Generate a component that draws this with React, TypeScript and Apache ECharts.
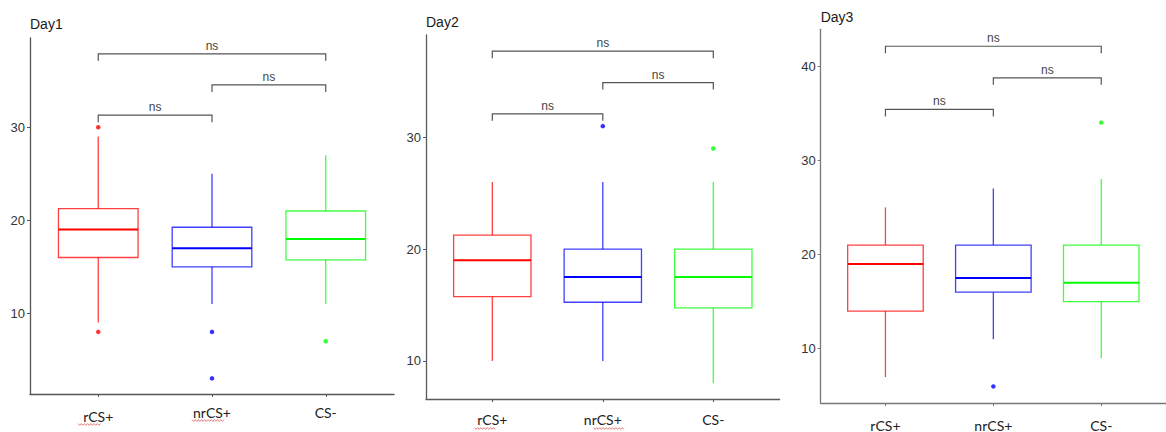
import { useEffect, useRef } from 'react';
import * as echarts from 'echarts';

const categories = ['rCS+', 'nrCS+', 'CS-'];
const categoryPositions = [1, 2, 3];
const groupColors = ['#ff0000', '#0000ff', '#00ff00'];

// [min, Q1, median, Q3, max] per group
const day1Boxes = [
  [9, 16, 19, 21.25, 29],
  [11, 15, 17, 19.25, 25],
  [11, 15.75, 18, 21, 27],
];
const day2Boxes = [
  [10, 15.75, 19, 21.25, 26],
  [10, 15.25, 17.5, 20, 26],
  [8, 14.75, 17.5, 20, 26],
];
const day3Boxes = [
  [7, 14, 19, 21, 25],
  [11, 16, 17.5, 21, 27],
  [9, 15, 17, 21, 28],
];

// [group index, value]
const day1Outliers = [[0, 30], [0, 8], [1, 8], [1, 3], [2, 7]];
const day2Outliers = [[1, 31], [2, 29]];
const day3Outliers = [[1, 6], [2, 34]];

// [from group, to group, bracket height]
const day1Brackets = [[0, 1, 31.3], [1, 2, 34.55], [0, 2, 37.9]];
const day2Brackets = [[0, 1, 32.1], [1, 2, 34.9], [0, 2, 37.7]];
const day3Brackets = [[0, 1, 35.4], [1, 2, 38.75], [0, 2, 42.1]];
const bracketLabel = 'ns';

const day1Ticks = [10, 20, 30];
const day2Ticks = [10, 20, 30];
const day3Ticks = [10, 20, 30, 40];

const BOX_WIDTH = 0.7;
const TIP = 7;

const panels = [
  {
    title: 'Day1', boxes: day1Boxes, outliers: day1Outliers, brackets: day1Brackets, ticks: day1Ticks,
    yMin: 1.32, yMax: 39.6,
    grid: { left: 30, top: 38, width: 364, height: 356 },
    titleTop: 16.5, labelMargin: 11, axisColor: '#555',
  },
  {
    title: 'Day2', boxes: day2Boxes, outliers: day2Outliers, brackets: day2Brackets, ticks: day2Ticks,
    yMin: 6.6, yMax: 39.15,
    grid: { left: 426, top: 35, width: 353.6, height: 364 },
    titleTop: 14.7, labelMargin: 13, axisColor: '#5a5a5a',
  },
  {
    title: 'Day3', boxes: day3Boxes, outliers: day3Outliers, brackets: day3Brackets, ticks: day3Ticks,
    yMin: 4.24, yMax: 43.9,
    grid: { left: 820.7, top: 29.3, width: 356.3, height: 376.7 },
    titleTop: 9.7, labelMargin: 15, axisColor: '#777',
  },
];

function squiggle(x0: number, x1: number, y: number) {
  const pts: number[][] = [];
  let k = 0;
  for (let x = x0; x <= x1; x += 1.6, k++) pts.push([x, y + (k % 2 ? 0.9 : -0.9)]);
  return {
    type: 'polyline',
    shape: { points: pts },
    style: { stroke: '#e05a5a', lineWidth: 0.8, fill: 'none' },
    silent: true,
  };
}

function buildOption() {
  const grid: any[] = [];
  const xAxis: any[] = [];
  const yAxis: any[] = [];
  const title: any[] = [];
  const series: any[] = [];

  panels.forEach((p, idx) => {
    grid.push({ ...p.grid });
    title.push({
      text: p.title,
      left: p.grid.left,
      top: p.titleTop,
      padding: 0,
      textStyle: { fontSize: 14, fontWeight: 'normal', color: '#1a1a1a', fontFamily: 'Liberation Sans, Arial, sans-serif' },
    });
    xAxis.push({
      type: 'value',
      gridIndex: idx,
      min: 0.4,
      max: 3.6,
      splitLine: { show: false },
      axisLine: { show: true, lineStyle: { color: p.axisColor, width: 1.3 } },
      axisTick: { show: true, length: 3, customValues: categoryPositions, lineStyle: { color: p.axisColor } },
      axisLabel: {
        customValues: categoryPositions,
        margin: p.labelMargin,
        formatter: (v: number) => {
          const name = categories[Math.round(v) - 1] ?? '';
          return idx === 0 && Math.round(v) === 1 ? `{low|${name}}` : name;
        },
        color: '#222',
        fontSize: 14,
        fontFamily: 'Lato, Open Sans, sans-serif',
        rich: {
          low: { fontSize: 14, fontFamily: 'Lato, Open Sans, sans-serif', color: '#222', padding: [4, 0, 0, 0] },
        },
      },
    });
    yAxis.push({
      type: 'value',
      gridIndex: idx,
      min: p.yMin,
      max: p.yMax,
      splitLine: { show: false },
      axisLine: { show: true, lineStyle: { color: p.axisColor, width: 1.3 } },
      axisTick: { show: true, length: 3, customValues: p.ticks, lineStyle: { color: p.axisColor } },
      axisLabel: {
        customValues: p.ticks,
        margin: 5,
        color: '#333',
        fontSize: 13,
        fontFamily: 'Liberation Sans, Arial, sans-serif',
      },
    });

    series.push({
      type: 'custom',
      xAxisIndex: idx,
      yAxisIndex: idx,
      encode: { x: 0, y: [1, 2, 3, 4, 5] },
      data: p.boxes.map((b, i) => [categoryPositions[i], ...b]),
      renderItem: (params: any, api: any) => {
        const x = api.value(0);
        const lo = api.coord([x, api.value(1)]);
        const q1 = api.coord([x, api.value(2)]);
        const med = api.coord([x, api.value(3)]);
        const q3 = api.coord([x, api.value(4)]);
        const hi = api.coord([x, api.value(5)]);
        const half = api.size([BOX_WIDTH, 0])[0] / 2;
        const color = groupColors[params.dataIndex];
        const thin = { stroke: color, lineWidth: 1.3, opacity: 0.75, fill: 'none' };
        return {
          type: 'group',
          children: [
            { type: 'line', shape: { x1: hi[0], y1: hi[1], x2: q3[0], y2: q3[1] }, style: thin },
            { type: 'line', shape: { x1: q1[0], y1: q1[1], x2: lo[0], y2: lo[1] }, style: thin },
            { type: 'rect', shape: { x: q3[0] - half, y: q3[1], width: 2 * half, height: q1[1] - q3[1] }, style: thin },
            { type: 'line', shape: { x1: med[0] - half, y1: med[1], x2: med[0] + half, y2: med[1] }, style: { stroke: color, lineWidth: 2 } },
          ],
        };
      },
      z: 2,
    });

    series.push({
      type: 'scatter',
      xAxisIndex: idx,
      yAxisIndex: idx,
      symbol: 'circle',
      symbolSize: 4.5,
      data: p.outliers.map(([g, v]) => ({ value: [categoryPositions[g], v], itemStyle: { color: groupColors[g] } })),
      z: 3,
    });

    series.push({
      type: 'custom',
      xAxisIndex: idx,
      yAxisIndex: idx,
      encode: { x: [0, 1], y: 2 },
      data: p.brackets.map(([a, b, h]) => [categoryPositions[a], categoryPositions[b], h]),
      renderItem: (_params: any, api: any) => {
        const p1 = api.coord([api.value(0), api.value(2)]);
        const p2 = api.coord([api.value(1), api.value(2)]);
        return {
          type: 'group',
          children: [
            {
              type: 'polyline',
              shape: { points: [[p1[0], p1[1] + TIP], [p1[0], p1[1]], [p2[0], p2[1]], [p2[0], p2[1] + TIP]] },
              style: { stroke: '#555', lineWidth: 1.2, fill: 'none' },
            },
            {
              type: 'text',
              style: {
                text: bracketLabel,
                x: (p1[0] + p2[0]) / 2,
                y: p1[1] - 8,
                align: 'center',
                verticalAlign: 'middle',
                fontSize: 12,
                fontFamily: 'Liberation Sans, Arial, sans-serif',
                fill: '#444',
              },
            },
          ],
        };
      },
      z: 4,
    });
  });

  return {
    animation: false,
    backgroundColor: '#ffffff',
    title,
    grid,
    xAxis,
    yAxis,
    series,
    graphic: [
      squiggle(78, 101.5, 424.5),
      squiggle(192, 224, 420.5),
      squiggle(474.5, 496.5, 428.5),
      squiggle(593.5, 625, 428.5),
    ],
  };
}

export default function App() {
  const ref = useRef<HTMLDivElement>(null);
  useEffect(() => {
    if (!ref.current) return;
    const chart = echarts.init(ref.current, undefined, { renderer: 'svg' });
    chart.setOption(buildOption() as any);
    return () => chart.dispose();
  }, []);
  return (
    <div
      ref={ref}
      style={{ position: 'fixed', left: 0, top: 0, width: 1166, height: 432, background: '#fff' }}
    />
  );
}
